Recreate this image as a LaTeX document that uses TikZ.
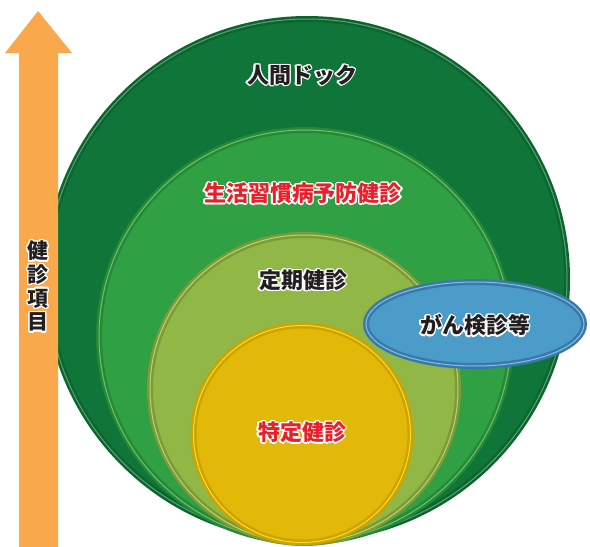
\documentclass[tikz,border=0pt]{standalone}
\usepackage{fontspec}
\usepackage[copies]{contour}
\usetikzlibrary{shapes.geometric}
\newfontfamily\jpfont{Noto Sans CJK JP}
\definecolor{dockfill}{RGB}{16,117,56}
\definecolor{dockrim}{RGB}{10,102,46}
\definecolor{docklight}{RGB}{95,160,112}
\definecolor{lifefill}{RGB}{47,160,68}
\definecolor{liferim}{RGB}{36,138,55}
\definecolor{lifelight}{RGB}{115,192,112}
\definecolor{regfill}{RGB}{145,183,70}
\definecolor{regrim}{RGB}{122,155,55}
\definecolor{reglight}{RGB}{185,212,112}
\definecolor{specfill}{RGB}{226,185,8}
\definecolor{specrim}{RGB}{204,164,0}
\definecolor{speclight}{RGB}{252,218,52}
\definecolor{cancerfill}{RGB}{76,156,201}
\definecolor{cancerrim}{RGB}{56,121,170}
\definecolor{cancerlight}{RGB}{132,192,226}
\definecolor{arrowfill}{RGB}{249,168,76}
\definecolor{inkred}{RGB}{232,32,42}
\definecolor{inkgray}{RGB}{35,31,32}
\contourlength{1.4pt}
\contournumber{16}
\tikzset{
disc/.style n args={3}{circle, fill=#1, draw=#2, double=#3,
    double distance=1pt, line width=2.5pt, inner sep=0pt},
jptext/.style={font={\jpfont\bfseries\fontsize{22pt}{24pt}\selectfont}, text=inkgray},
redtext/.style={jptext, text=inkred},
}

\begin{document}
\begin{tikzpicture}[x=1pt,y=-1pt]
    \useasboundingbox (0,0) rectangle (590,547);
    % nested check-up circles
    \node[disc={dockfill}{dockrim}{docklight}, minimum size=520pt] (dock) at (307,279) {};
    \node[disc={lifefill}{liferim}{lifelight}, minimum size=412pt] (life) at (305,336) {};
    \node[disc={regfill}{regrim}{reglight}, minimum size=308pt] (reg) at (304,389) {};
    \node[disc={specfill}{specrim}{speclight}, minimum size=217pt] (spec) at (302,434) {};
    \node[ellipse, fill=cancerfill, draw=cancerrim, double=cancerlight, double distance=1pt,
          line width=2.5pt, minimum width=218pt, minimum height=84pt, inner sep=0pt] (cancer) at (475,324) {};
    % axis arrow
    \fill[arrowfill] (19,547) -- (19,53) -- (5,53) -- (38,11) -- (72,53) -- (58,53) -- (58,547) -- cycle;
    % labels
    \node[jptext] (dock-lbl) at (302,76) {\contour{white}{人間ドック}};
    \node[redtext] (life-lbl) at (303,194) {\contour{white}{生活習慣病予防健診}};
    \node[jptext] (reg-lbl) at (303,281) {\contour{white}{定期健診}};
    \node[jptext] (cancer-lbl) at (475,326) {\contour{white}{がん検診等}};
    \node[redtext] (spec-lbl) at (302,433) {\contour{white}{特定健診}};
    \node[jptext, font={\jpfont\bfseries\fontsize{21pt}{23.7pt}\selectfont}, align=center] (axis-lbl) at (38,287)
        {\contour{white}{健}\\\contour{white}{診}\\\contour{white}{項}\\\contour{white}{目}};
\end{tikzpicture}
\end{document}
